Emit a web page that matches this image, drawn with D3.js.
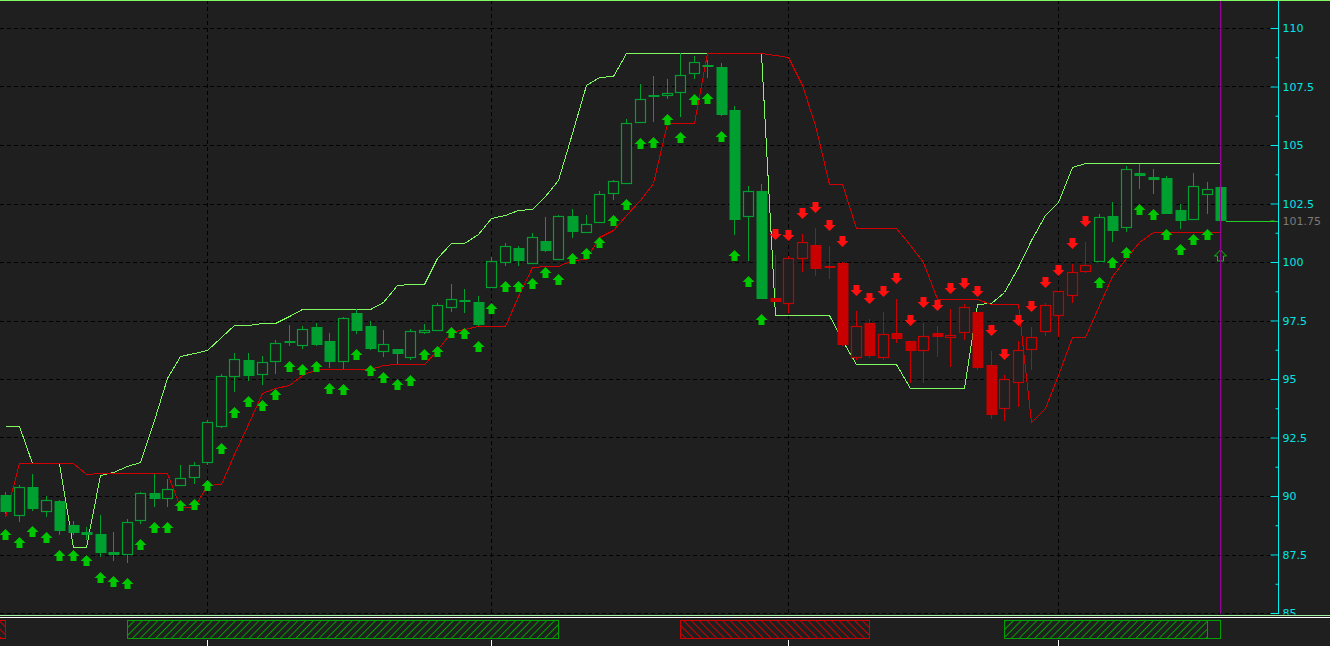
<!DOCTYPE html>
<html><head><meta charset="utf-8">
<script src="https://cdn.jsdelivr.net/npm/d3@7"></script>
<style>html,body{margin:0;padding:0;background:#1f1f1f;overflow:hidden}</style>
</head><body><svg id="c" width="1330" height="646"></svg>
<script>
// ---------------- data ----------------
const opens = [90.04,89.19,90.38,89.36,89.79,88.76,88.46,88.38,87.61,87.52,88.97,90.13,89.91,90.47,90.81,91.45,92.99,95.13,95.81,95.21,95.77,96.62,96.45,97.22,96.62,95.77,97.82,97.26,96.20,96.28,95.94,97.01,97.09,98.08,98.38,98.29,98.93,100.00,100.60,99.96,100.90,100.13,101.97,101.28,101.71,102.95,103.38,105.98,107.14,107.14,107.26,108.08,108.42,108.33,106.50,101.97,103.03,98.46,98.25,100.17,100.73,99.83,99.96,95.94,97.39,95.94,96.97,96.62,96.24,96.97,96.79,97.01,97.86,95.60,93.76,94.87,96.28,97.05,97.74,98.59,99.62,100.04,101.97,101.50,103.80,103.63,103.59,102.22,101.84,102.91,103.21];
const highs = [90.17,90.47,90.94,90.00,89.83,88.93,88.68,89.19,88.46,89.02,90.17,90.94,90.73,91.32,91.45,93.25,95.21,96.11,96.11,95.98,96.67,97.31,97.26,97.39,96.97,97.65,97.99,97.48,97.09,96.30,97.14,97.35,98.25,99.06,98.85,98.55,100.21,100.81,100.70,101.24,101.92,102.01,102.26,102.01,103.03,103.50,106.11,107.61,107.95,107.82,108.93,108.80,108.63,108.50,106.67,103.25,103.33,100.30,100.26,101.20,101.45,100.68,100.00,97.91,97.56,97.86,98.42,96.64,97.39,97.26,97.99,98.21,97.88,96.20,95.17,96.62,97.22,98.25,98.78,99.91,100.85,102.05,102.56,104.10,104.19,103.97,103.68,102.48,103.80,103.42,103.80];
const lows = [89.23,88.89,89.36,89.10,88.33,88.33,88.12,87.39,87.22,87.14,88.80,89.53,89.53,90.47,90.51,91.32,92.91,94.44,94.91,94.74,95.21,96.41,96.28,96.41,95.47,95.43,96.92,96.24,95.94,95.64,95.81,96.92,97.07,97.86,97.82,97.26,98.91,99.83,99.83,99.94,100.43,100.11,101.03,101.25,101.70,102.65,103.33,105.96,105.98,106.97,106.20,107.82,107.86,106.24,101.15,100.04,98.40,98.27,97.82,99.57,99.40,99.27,96.43,95.81,95.90,95.81,96.54,94.83,94.83,95.94,95.51,96.67,95.38,93.29,93.21,93.80,95.38,96.84,96.79,98.25,99.53,100.00,100.85,101.28,103.12,102.91,102.03,101.41,101.82,102.05,101.15];
const closes = [89.32,90.38,89.44,89.83,88.50,88.42,88.33,87.56,87.48,88.89,90.13,89.87,90.30,90.77,91.32,93.16,95.13,95.85,95.13,95.73,96.54,96.60,97.14,96.45,95.73,97.61,97.05,96.28,96.50,96.07,97.05,97.09,98.16,98.42,98.36,97.31,100.04,100.68,100.04,101.07,100.47,101.97,101.28,101.62,102.91,103.46,105.94,106.97,107.12,107.22,107.99,108.55,108.40,106.28,101.79,103.03,98.42,98.29,100.17,100.85,99.70,99.81,96.45,97.26,95.98,96.92,96.71,96.20,96.84,96.79,96.88,98.08,95.47,93.46,95.00,96.24,96.79,98.16,98.76,99.57,99.87,101.92,101.32,103.97,103.68,103.50,102.05,101.75,103.25,103.12,101.75];
// channel lines (green and red)
const greenLine = [92.99,92.99,91.41,91.41,91.41,87.82,87.82,90.90,91.03,91.28,91.45,93.25,95.04,95.98,96.11,96.24,96.79,97.31,97.31,97.39,97.39,97.69,97.99,97.99,97.99,97.99,97.99,97.99,98.29,99.02,99.06,99.06,100.17,100.81,100.81,101.20,101.88,102.01,102.22,102.26,102.82,103.50,105.51,107.56,107.91,107.95,108.93,108.93,108.93,108.93,108.93,108.93,108.93,108.93,108.93,108.93,108.93,97.74,97.74,97.74,97.74,97.74,96.67,95.64,95.64,95.64,95.64,94.62,94.62,94.62,94.62,94.62,98.21,98.25,98.72,99.79,100.94,102.01,102.56,104.06,104.23,104.23,104.23,104.23,104.23,104.23,104.23,104.23,104.23,104.23,104.23];
const redLine = [89.10,91.41,91.41,91.41,91.41,91.41,90.94,90.98,90.98,90.98,90.98,90.98,90.98,89.53,89.53,90.47,90.51,91.79,93.08,94.40,94.62,94.74,95.17,95.43,95.43,95.43,95.43,95.43,95.60,95.64,95.64,95.64,96.24,97.01,97.14,97.26,97.26,97.26,98.55,99.79,99.83,99.83,100.09,100.13,101.07,101.37,102.01,102.65,103.38,105.94,105.94,105.94,108.93,108.93,108.93,108.93,108.93,108.85,108.76,107.56,105.85,103.33,103.33,101.45,101.45,101.45,101.45,100.73,100.00,98.42,98.42,98.42,98.42,98.21,98.21,98.21,93.16,93.76,95.17,96.79,96.79,98.16,99.40,100.17,100.85,101.28,101.28,101.28,101.28,101.28,101.28];
const trendSegments = [{from:0,to:56,dir:"up"},{from:57,to:80,dir:"down"},{from:81,to:90,dir:"up"}];
const signalBands = [{from:-1,to:0,dir:"down",hatch:true},{from:9,to:41,dir:"up",hatch:true},{from:50,to:64,dir:"down",hatch:true},{from:74,to:89,dir:"up",hatch:true},{from:89,to:90,dir:"up",hatch:false}];
const gridBars = [15,36,58,78];
const yTicks = [85,87.5,90,92.5,95,97.5,100,102.5,105,107.5,110];
const yMinorTicks = [86.25,88.75,91.25,93.75,96.25,98.75,101.25,103.75,106.25,108.75];
const lastPrice = 101.75;

// ---------------- drawing ----------------
const W = 1330, H = 646, plotR = 1278, plotB = 614;
const C = {bg:"#1f1f1f", upC:"#00a030", dnC:"#c80000", upA:"#00c800", dnA:"#ff1010",
  gLine:"#80f860", rLine:"#d00000", axis:"#00f0f0", lab:"#00e5e5", mag:"#990099"};
const svg = d3.select("#c");
svg.append("rect").attr("width",W).attr("height",H).attr("fill",C.bg);
const n = opens.length;
const x = d3.scaleLinear().domain([0, n-1]).range([5, 1220]);
const y = d3.scaleLinear().domain([85, 110]).range([613, 28]);
const defs = svg.append("defs");
defs.append("clipPath").attr("id","plot").append("rect").attr("x",0).attr("y",0).attr("width",plotR).attr("height",plotB);
function hatch(id, color, angle){
  const p = defs.append("pattern").attr("id",id).attr("patternUnits","userSpaceOnUse")
    .attr("width",5.5).attr("height",5.5).attr("patternTransform",`rotate(${angle})`);
  p.append("line").attr("x1",0.5).attr("y1",0).attr("x2",0.5).attr("y2",5.5).attr("stroke",color).attr("stroke-width",1);
}
hatch("hUp","#00a000",45); hatch("hDn","#cc0000",-45);

const dirAt = i => (trendSegments.find(s => i>=s.from && i<=s.to) || {dir:"up"}).dir;
const px = v => Math.round(v) + 0.5;

const plot = svg.append("g").attr("clip-path","url(#plot)");
// grid
plot.append("g").selectAll("line").data(yTicks).join("line")
  .attr("x1",0).attr("x2",plotR).attr("y1",d=>px(y(d))).attr("y2",d=>px(y(d)))
  .attr("stroke","#000").attr("stroke-dasharray","4,3").attr("shape-rendering","crispEdges");
plot.append("g").selectAll("line").data(gridBars).join("line")
  .attr("y1",0).attr("y2",plotB).attr("x1",d=>px(x(d))).attr("x2",d=>px(x(d)))
  .attr("stroke","#000").attr("stroke-dasharray","4,3").attr("shape-rendering","crispEdges");

// channel lines
const line = d3.line().x((d,i)=>Math.round(x(i))+0.5).y(d=>Math.round(y(d))+0.5);
plot.append("path").datum(greenLine).attr("d",line).attr("fill","none").attr("stroke",C.gLine).attr("stroke-width",1).attr("shape-rendering","crispEdges");
plot.append("path").datum(redLine).attr("d",line).attr("fill","none").attr("stroke",C.rLine).attr("stroke-width",1).attr("shape-rendering","crispEdges");

// candles
const idx = d3.range(n);
const cg = plot.append("g");
cg.selectAll("line").data(idx).join("line")
  .attr("x1",i=>px(x(i))).attr("x2",i=>px(x(i)))
  .attr("y1",i=>Math.round(y(highs[i]))).attr("y2",i=>Math.round(y(lows[i])))
  .attr("stroke",i=>dirAt(i)==="up"?C.upC:C.dnC).attr("stroke-width",1).attr("shape-rendering","crispEdges");
cg.selectAll("rect").data(idx).join("rect")
  .each(function(i){
    const col = dirAt(i)==="up"?C.upC:C.dnC;
    const top = y(Math.max(opens[i],closes[i])), bot = y(Math.min(opens[i],closes[i]));
    const cx = Math.round(x(i));
    const sel = d3.select(this);
    if (closes[i] >= opens[i]) {
      sel.attr("x",cx-4.5).attr("width",10).attr("y",Math.round(top)+0.5)
        .attr("height",Math.max(1,Math.round(bot)-Math.round(top)))
        .attr("fill",C.bg).attr("stroke",col).attr("stroke-width",1.2);
    } else {
      sel.attr("x",cx-4.5).attr("width",11).attr("y",Math.round(top))
        .attr("height",Math.max(2,Math.round(bot)-Math.round(top)))
        .attr("fill",col);
    }
  });

// arrows
const upPath = "M0,0 L6,6 L3,6 L3,11 L-3,11 L-3,6 L-6,6 Z";
const dnPath = "M0,0 L6,-6 L3,-6 L3,-11 L-3,-11 L-3,-6 L-6,-6 Z";
plot.append("g").selectAll("path").data(idx).join("path")
  .attr("d",i=>dirAt(i)==="up"?upPath:dnPath)
  .attr("transform",i=>{
    const cx = Math.round(x(i))+0.5;
    return dirAt(i)==="up" ? `translate(${cx},${Math.round(y(lows[i]))+15})` : `translate(${cx},${Math.round(y(highs[i]))-15})`;
  })
  .attr("fill",i=> i===n-1 ? "none" : (dirAt(i)==="up"?C.upA:C.dnA))
  .attr("stroke",i=> i===n-1 ? C.upA : "none");

// last price line
plot.append("line").attr("x1",x(n-1)+6).attr("x2",plotR).attr("y1",px(y(lastPrice))).attr("y2",px(y(lastPrice)))
  .attr("stroke","#22cc22");

// magenta current bar line
svg.append("line").attr("x1",px(x(n-1))).attr("x2",px(x(n-1))).attr("y1",0).attr("y2",plotB)
  .attr("stroke",C.mag).attr("stroke-width",1);

// right axis
const ax = svg.append("g").attr("transform",`translate(${plotR+0.5},0)`);
ax.append("line").attr("x1",0).attr("x2",0).attr("y1",0).attr("y2",plotB).attr("stroke",C.axis);
const majorAx = ax.append("g").call(d3.axisLeft(y).tickValues(yTicks).tickSize(8).tickFormat(""));
const minorAx = ax.append("g").call(d3.axisLeft(y).tickValues(yMinorTicks).tickSize(3).tickFormat(""));
[majorAx, minorAx].forEach(g=>{ g.select(".domain").remove(); g.selectAll("line").attr("stroke",C.axis); });
const labAx = ax.append("g").call(d3.axisRight(y).tickValues(yTicks).tickSize(0).tickPadding(4).tickFormat(d=>d));
labAx.select(".domain").remove();
labAx.selectAll("text").attr("fill",C.lab).style("font-family","'DejaVu Sans', Verdana, sans-serif").style("font-size","11px");
const lastAx = ax.append("g").call(d3.axisRight(y).tickValues([lastPrice]).tickSize(0).tickPadding(4).tickFormat(d=>d));
lastAx.select(".domain").remove();
lastAx.selectAll("text").attr("fill","#7a7a7a").style("font-family","'DejaVu Sans', Verdana, sans-serif").style("font-size","11px");
ax.append("line").attr("x1",-8).attr("x2",-4).attr("y1",px(y(lastPrice))-0.5).attr("y2",px(y(lastPrice))-0.5).attr("stroke","#22cc22");

// separators
svg.append("line").attr("x1",0).attr("x2",W).attr("y1",0.5).attr("y2",0.5).attr("stroke",C.gLine);
svg.append("rect").attr("x",0).attr("y",plotB+0.5).attr("width",W).attr("height",4).attr("fill",C.bg);
svg.append("line").attr("x1",0).attr("x2",W).attr("y1",615.5).attr("y2",615.5).attr("stroke","#a0f0a0");
svg.append("line").attr("x1",0).attr("x2",W).attr("y1",617.5).attr("y2",617.5).attr("stroke","#ffffff");

// bottom signal pane
const bp = svg.append("g");
bp.selectAll("rect").data(signalBands).join("rect")
  .attr("x",d=>Math.round(x(d.from))+0.5).attr("width",d=>Math.round(x(d.to))-Math.round(x(d.from)))
  .attr("y",620.5).attr("height",18)
  .attr("fill",d=>d.hatch ? (d.dir==="up"?"url(#hUp)":"url(#hDn)") : "none")
  .attr("stroke",d=>d.dir==="up"?"#00a000":"#cc0000").attr("stroke-width",1);
bp.selectAll("line").data(gridBars).join("line")
  .attr("x1",d=>px(x(d))).attr("x2",d=>px(x(d))).attr("y1",640).attr("y2",646).attr("stroke","#ffffff");
</script></body></html>
